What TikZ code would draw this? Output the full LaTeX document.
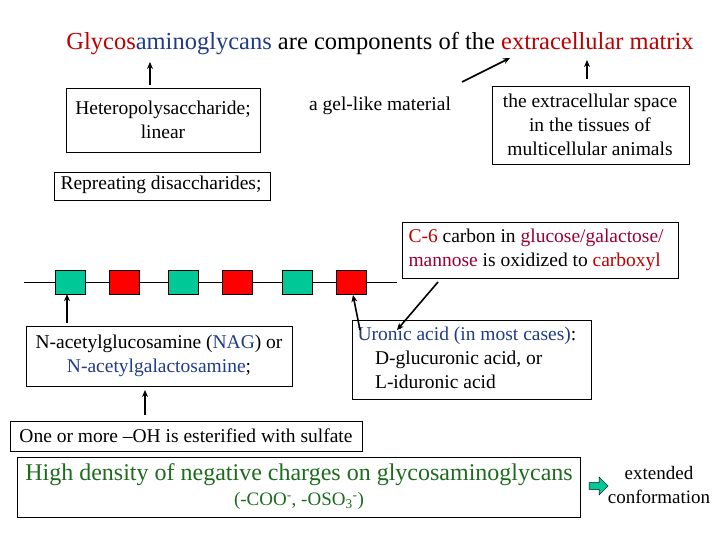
\documentclass[tikz,border=0pt]{standalone}
\usepackage{fontspec}
\setmainfont{Liberation Serif}
\usetikzlibrary{shapes.arrows,arrows.meta}
\definecolor{gred}{HTML}{C00000}
\definecolor{gblue}{HTML}{1F3C88}
\definecolor{gmar}{HTML}{990033}
\definecolor{ggreen}{HTML}{1E6B1E}
\definecolor{gteal}{HTML}{00C896}
\definecolor{bred}{HTML}{FF0000}
\begin{document}
\begin{tikzpicture}[x=1pt,y=-1pt,font=\rmfamily,
  txt/.style={font=\rmfamily\fontsize{19.5}{24}\selectfont,align=center},
  arr/.style={-{Stealth[length=7pt,width=6pt]},line width=1.6pt},
  sq/.style={draw,thin,minimum width=30pt,minimum height=24pt,inner sep=0}]
\useasboundingbox (0,0) rectangle (720,540);
\node[font=\rmfamily\fontsize{24.5}{29}\selectfont] (title) at (380,44) {\textcolor{gred}{Glycos}\textcolor{gblue}{aminoglycans} are components of the \textcolor{gred}{extracellular matrix}};
% boxes
\draw (66,88) rectangle (260,152);
\node[txt] (het) at (163,120) {Heteropolysaccharide;\\linear};
\node[txt] (gel) at (380,106) {a gel-like material};
\draw (492,86) rectangle (689,164);
\node[txt] (ecs) at (590,125) {the extracellular space\\in the tissues of\\multicellular animals};
\draw (54,172) rectangle (270,200);
\node[txt,anchor=west] (rep) at (57,185) {Repreating disaccharides;};
\draw (402,222) rectangle (678,278);
\node[txt,align=left,anchor=west] (c6) at (405,250) {\textcolor{gred}{C-6} carbon in \textcolor{gmar}{glucose/galactose/}\\\textcolor{gmar}{mannose} is oxidized to \textcolor{gred}{carboxyl}};
\coordinate (c6b) at (438,282);
% arrows top
\coordinate (a1) at (150,85); \coordinate (a1t) at (150,62);
\draw[arr] (a1) -- (a1t);
\coordinate (a2) at (462,82); \coordinate (a2t) at (510,58);
\draw[arr] (a2) -- (a2t);
\coordinate (a3) at (587,79); \coordinate (a3t) at (587,60);
\draw[arr] (a3) -- (a3t);
% chain
\coordinate (cl) at (24,282); \coordinate (cr) at (397,282);
\draw (cl) -- (cr);
\foreach \x/\c [count=\i] in {70/gteal,124/bred,183/gteal,237/bred,297/gteal,351/bred}
  \node[sq,fill=\c] (s\i) at (\x,282) {};
% NAG
\draw (26,326) rectangle (292,386);
\node[txt] (nag) at (159,356) {N-acetylglucosamine (\textcolor{gblue}{NAG}) or\\\textcolor{gblue}{N-acetylgalactosamine};};
\coordinate (n1) at (67,323);
\draw[arr] (n1) -- (s1.south -| n1);
\coordinate (n2) at (145,415); \coordinate (n2t) at (145,390);
\draw[arr] (n2) -- (n2t);
% Uronic
\draw (352,320) rectangle (591,399);
\node[txt,align=left,anchor=north west] (uro) at (354,323) {\textcolor{gblue}{Uronic acid (in most cases)}:\\\hspace{0.9em}D-glucuronic acid, or\\\hspace{0.9em}L-iduronic acid};
\coordinate (u1) at (360,330);
\draw[arr] (u1) -- (353,295);
\coordinate (u2) at (397,330);
\draw[arr] (c6b) -- (u2);
% sulfate
\draw (10,421) rectangle (362,451);
\node[txt] (sul) at (186,436) {One or more –OH is esterified with sulfate};
\draw (17,457) rectangle (580,517);
\node[align=center,font=\rmfamily\fontsize{24}{28}\selectfont,text=ggreen] (hd) at (299,487) {High density of negative charges on glycosaminoglycans\\[-3pt]{\fontsize{19}{22}\selectfont(-COO\textsuperscript{-}, -OSO\textsubscript{3}\textsuperscript{-})}};
\node[single arrow,draw,thin,fill=gteal,minimum height=19pt,minimum width=18pt,single arrow head extend=2pt,inner sep=1pt] (fa) at (597,486) {};
\node[txt,font=\rmfamily\fontsize{19}{24}\selectfont] (ext) at (659,485) {extended\\conformation};
\end{tikzpicture}
\end{document}
